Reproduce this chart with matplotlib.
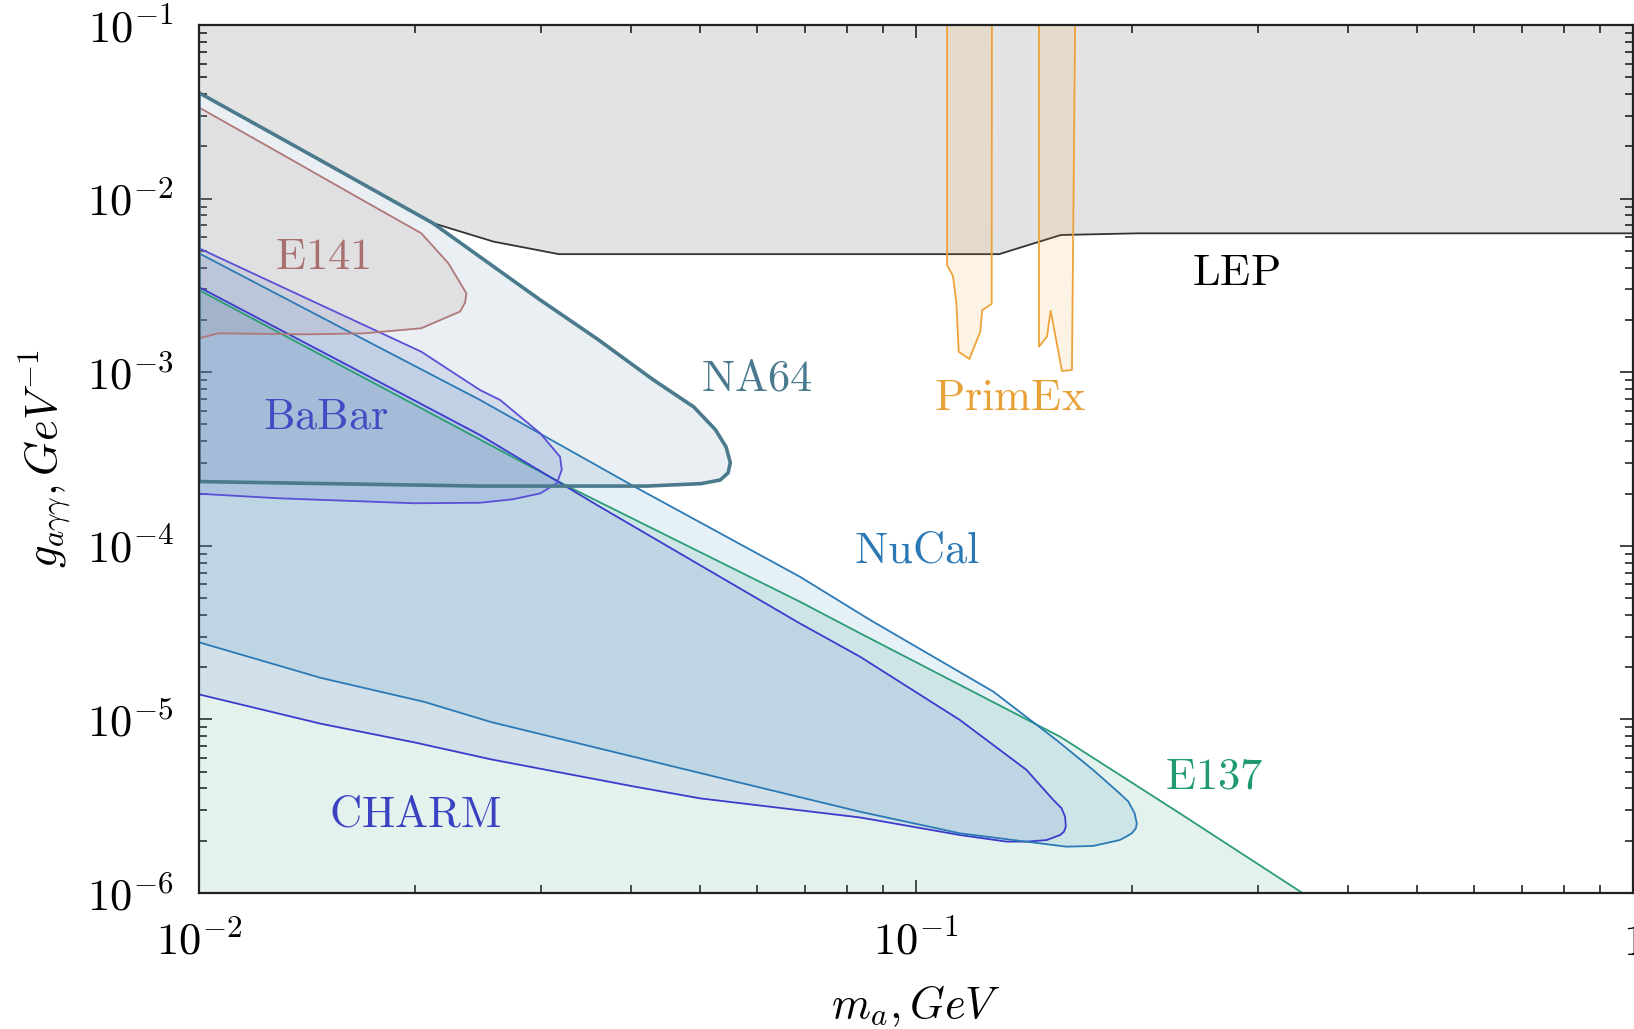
import matplotlib
matplotlib.use("Agg")
import matplotlib.pyplot as plt
from matplotlib.colors import to_rgba
from matplotlib.ticker import FixedLocator, FixedFormatter, LogLocator, NullFormatter

plt.rcParams["mathtext.fontset"] = "cm"
plt.rcParams["font.family"] = ["DejaVu Serif"]

# ---------------- data (m_a in GeV, g_agg in GeV^-1) ----------------
lep_m = [0.0100, 0.01413, 0.02118, 0.02576, 0.03177, 0.1306, 0.1592, 0.2042, 1.0]
lep_g = [0.0407, 0.01841, 0.00723, 0.005649, 0.004786, 0.004786, 0.00617, 0.00631, 0.00631]

na64_m = [0.0100, 0.01413, 0.02118, 0.02992, 0.03597, 0.04305, 0.04898, 0.05248,
          0.05433, 0.05508, 0.05470, 0.05333, 0.05012, 0.04207, 0.02466, 0.0100]
na64_g = [0.0407, 0.01841, 0.00723, 0.002606, 0.001549, 9.016e-4, 6.31e-4, 4.677e-4,
          3.715e-4, 3.020e-4, 2.630e-4, 2.393e-4, 2.280e-4, 2.208e-4, 2.208e-4, 2.344e-4]

e141_m = [0.0100, 0.01250, 0.01596, 0.02042, 0.02228, 0.02360, 0.02350, 0.02312,
          0.02042, 0.01698, 0.01413, 0.01064, 0.0100]
e141_g = [0.0335, 0.01991, 0.01122, 0.00631, 0.004236, 0.002844, 0.002512, 0.002234,
          0.001791, 0.001675, 0.001652, 0.001675, 0.001567]

babar_m = [0.0100, 0.01413, 0.02042, 0.02466, 0.02630, 0.02992, 0.03188, 0.03206,
           0.03155, 0.02992, 0.02742, 0.02466, 0.01995, 0.01288, 0.0100]
babar_g = [5.176e-3, 2.661e-3, 1.312e-3, 7.889e-4, 6.918e-4, 4.446e-4, 3.258e-4, 2.735e-4,
           2.291e-4, 2.004e-4, 1.854e-4, 1.770e-4, 1.758e-4, 1.879e-4, 1.995e-4]

nucal_m = [0.0100, 0.01585, 0.02466, 0.04036, 0.06887, 0.08630, 0.1282, 0.1570, 0.1766,
           0.1923, 0.1978, 0.2018, 0.2032, 0.2026, 0.2000, 0.1957, 0.1923, 0.1766, 0.1622,
           0.1489, 0.1368, 0.1151, 0.08356, 0.05000, 0.03656, 0.02553, 0.02061, 0.01479,
           0.0100]
nucal_g = [4.842e-3, 1.791e-3, 6.918e-4, 2.208e-4, 6.637e-5, 3.741e-5, 1.445e-5, 7.603e-6,
           5.117e-6, 3.750e-6, 3.357e-6, 2.877e-6, 2.518e-6, 2.360e-6, 2.208e-6, 2.094e-6,
           2.018e-6, 1.866e-6, 1.849e-6, 1.932e-6, 2.018e-6, 2.208e-6, 2.938e-6, 4.909e-6,
           6.730e-6, 9.661e-6, 1.262e-5, 1.734e-5, 2.780e-5]

charm_m = [0.0100, 0.01585, 0.02466, 0.03589, 0.06887, 0.08356, 0.1151, 0.1426, 0.1554,
           0.1596, 0.1614, 0.1618, 0.1608, 0.1589, 0.1521, 0.1426, 0.1337, 0.1151, 0.08356,
           0.05000, 0.04036, 0.02553, 0.02000, 0.01479, 0.0100]
charm_g = [3.090e-3, 1.138e-3, 4.345e-4, 1.718e-4, 3.573e-5, 2.296e-5, 9.931e-6, 5.117e-6,
           3.436e-6, 3.076e-6, 2.754e-6, 2.410e-6, 2.254e-6, 2.158e-6, 2.018e-6, 1.977e-6,
           1.977e-6, 2.158e-6, 2.723e-6, 3.508e-6, 4.111e-6, 5.888e-6, 7.362e-6, 9.441e-6,
           1.393e-5]

e137_m = [0.0100, 0.02042, 0.03266, 0.06887, 0.08356, 0.1589, 0.2333, 0.3459]
e137_g = [2.972e-3, 6.194e-4, 2.203e-4, 4.764e-5, 3.133e-5, 7.943e-6, 2.877e-6, 1.0e-6]

primex1_m = [0.1105, 0.1105, 0.1126, 0.1138, 0.1147, 0.1187, 0.1229, 0.1237, 0.1275, 0.1276]
primex1_g = [0.1, 4.150e-3, 3.581e-3, 2.547e-3, 1.312e-3, 1.191e-3, 1.710e-3, 2.280e-3,
             2.472e-3, 0.1]
primex2_m = [0.1484, 0.1484, 0.1523, 0.1541, 0.1598, 0.1650, 0.1667]
primex2_g = [0.1, 1.403e-3, 1.603e-3, 2.259e-3, 1.016e-3, 1.030e-3, 0.1]

x_ticks = [0.01, 0.1, 1.0]
x_tick_labels = [r"$10^{-2}$", r"$10^{-1}$", r"$1$"]
y_ticks = [1e-6, 1e-5, 1e-4, 1e-3, 1e-2, 1e-1]
y_tick_labels = [r"$10^{-6}$", r"$10^{-5}$", r"$10^{-4}$", r"$10^{-3}$", r"$10^{-2}$", r"$10^{-1}$"]

labels = ["E141", "BaBar", "NA64", "PrimEx", "LEP", "NuCal", "E137", "CHARM"]
label_pos = {  # data-coordinate anchors (center, baseline)
    "E141": (0.01489, 3.945e-3),
    "BaBar": (0.0150, 4.753e-4),
    "NA64": (0.0600, 7.816e-4),
    "PrimEx": (0.1351, 6.095e-4),
    "LEP": (0.2793, 3.199e-3),
    "NuCal": (0.1003, 8.000e-5),
    "E137": (0.2604, 3.981e-6),
    "CHARM": (0.0200, 2.421e-6),
}
label_col = {
    "E141": "#a8716f", "BaBar": "#3f4cc2", "NA64": "#4a7a90", "PrimEx": "#e9a137",
    "LEP": "#000000", "NuCal": "#2a78b5", "E137": "#1f9a72", "CHARM": "#3a42c2",
}

# ---------------- figure ----------------
fig = plt.figure(figsize=(16.34, 10.29), dpi=100)
ax = fig.add_axes([0.12179, 0.13217, 0.87760, 0.84354])
ax.set_xscale("log")
ax.set_yscale("log")
xmin, xmax = 1e-2, 1.0
ymin, ymax = 1e-6, 1e-1
ax.set_xlim(xmin, xmax)
ax.set_ylim(ymin, ymax)

# LEP
ax.fill_between(lep_m, lep_g, ymax, facecolor="#e3e3e3", edgecolor="none", zorder=1)
ax.plot(lep_m, lep_g, color="#333333", lw=1.3, zorder=1.5)

# E137
ax.fill_between(e137_m, e137_g, ymin, facecolor=to_rgba("#1e9b71", 0.12),
                edgecolor="none", zorder=2)
ax.plot(e137_m, e137_g, color="#2a9d74", lw=1.3, zorder=4)

def contour(m, g, face, alpha, edge, lw, z):
    ax.fill(m, g, facecolor=to_rgba(face, alpha), edgecolor="none", zorder=z)
    ax.fill(m, g, facecolor="none", edgecolor=edge, lw=lw, zorder=z + 2, joinstyle="round")

contour(charm_m, charm_g, "#6c7ad4", 0.15, "#3b3ccc", 1.3, 2.1)
contour(nucal_m, nucal_g, "#589bca", 0.15, "#2b7ab5", 1.3, 2.2)
contour(babar_m, babar_g, "#4650c8", 0.13, "#5b4fd6", 1.3, 2.3)
contour(e141_m, e141_g, "#b07676", 0.12, "#b07878", 1.3, 2.4)
contour(na64_m, na64_g, "#6c94a8", 0.15, "#4b7a8c", 2.6, 2.5)
contour(primex1_m, primex1_g, "#eb9105", 0.10, "#eda33a", 1.3, 2.6)
contour(primex2_m, primex2_g, "#eb9105", 0.10, "#eda33a", 1.3, 2.6)

for name in labels:
    x, y = label_pos[name]
    ax.text(x, y, r"$\mathrm{%s}$" % name, color=label_col[name], fontsize=32,
            ha="center", va="baseline", zorder=10)

# ---------------- axes styling ----------------
ax.xaxis.set_major_locator(FixedLocator(x_ticks))
ax.xaxis.set_major_formatter(FixedFormatter(x_tick_labels))
ax.yaxis.set_major_locator(FixedLocator(y_ticks))
ax.yaxis.set_major_formatter(FixedFormatter(y_tick_labels))
ax.xaxis.set_minor_locator(LogLocator(base=10, subs=range(2, 10), numticks=20))
ax.yaxis.set_minor_locator(LogLocator(base=10, subs=range(2, 10), numticks=20))
ax.xaxis.set_minor_formatter(NullFormatter())
ax.yaxis.set_minor_formatter(NullFormatter())

ax.tick_params(which="both", direction="in", top=True, right=True, color="#222222",
               width=1.2, labelsize=32)
ax.tick_params(which="major", length=9.5)
ax.tick_params(which="minor", length=5.5)
ax.tick_params(axis="x", which="major", pad=20)
ax.tick_params(axis="y", which="major", pad=18)
for sp in ax.spines.values():
    sp.set_linewidth(1.6)
    sp.set_color("#222222")
    sp.set_zorder(20)

ax.set_xlabel(r"$m_a, GeV$", fontsize=32, labelpad=14)
ax.set_ylabel(r"$g_{a\gamma\gamma}, GeV^{-1}$", fontsize=32, labelpad=10)

fig.savefig("out.png", dpi=100)
